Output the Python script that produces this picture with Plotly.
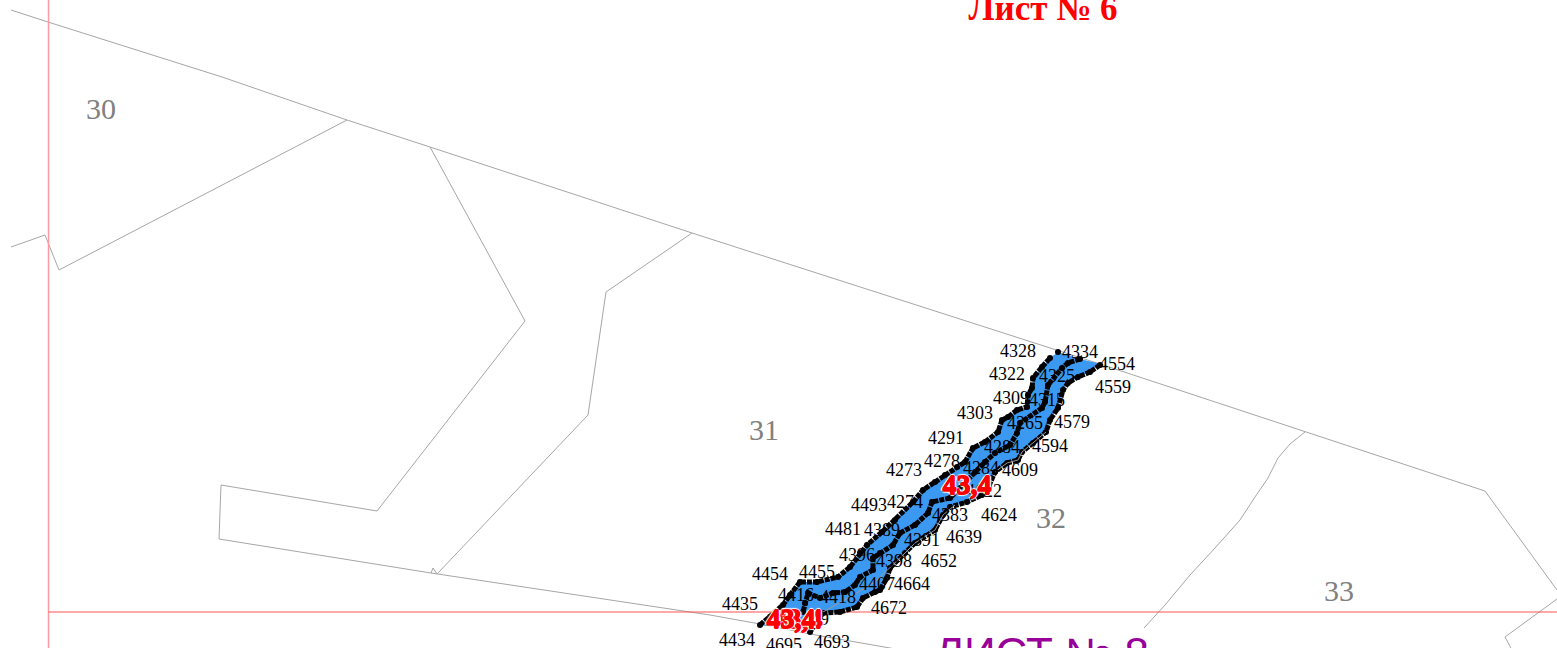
import plotly.graph_objects as go

# picture read in plan coordinates (x to the right, y downwards)
top_x = [11, 48, 222, 347, 430, 692, 1100, 1305, 1485, 1557]
top_y = [10, 22, 77, 120, 147, 233, 364, 432, 491, 590]
left_x = [11, 45, 59, 347]
left_y = [247, 235, 270, 120]
inner_x = [430, 525, 377, 221, 219, 431, 433, 437, 588, 606, 692]
inner_y = [147, 321, 511, 485, 539, 573, 568, 574, 415, 292, 233]
bottom_x = [431, 710, 760, 810, 930]
bottom_y = [573, 615, 624, 634, 655]
east_x = [1305, 1290, 1278, 1268, 1255, 1240, 1215, 1190, 1165, 1144]
east_y = [432, 444, 458, 478, 497, 520, 548, 575, 605, 628]
corner_x = [1557, 1505, 1512]
corner_y = [599, 637, 650]

redv_x = [48.5, 48.5]
redv_y = [0, 648]
redh_x = [48.5, 1557]
redh_y = [612, 612]

# strip edges
edge_l_x = [760, 770, 783, 790, 800, 817, 838, 850, 860, 867, 882, 895, 913, 923, 935, 945, 957, 965, 973, 985, 998,
            1002, 1008, 1017, 1027, 1028, 1032, 1033, 1042, 1050, 1058]
edge_l_y = [625, 617, 605, 595, 582, 582, 577, 567, 553, 545, 532, 520, 502, 490, 482, 475, 467, 462, 448, 442, 432,
            420, 417, 410, 407, 395, 388, 378, 367, 358, 352]
edge_t_x = [1058, 1080, 1097, 1100]
edge_t_y = [352, 359, 363, 365]
edge_r_x = [1100, 1090, 1078, 1068, 1063, 1058, 1050, 1046, 1033, 1022, 1018, 1007, 995, 988, 982, 967, 950, 943, 935,
            915, 905, 890, 887, 880, 875, 863, 857, 840, 823, 810]
edge_r_y = [365, 372, 377, 383, 390, 408, 420, 432, 443, 452, 460, 463, 472, 488, 495, 502, 507, 515, 530,
            543, 553, 568, 578, 590, 592, 598, 607, 612, 613, 632]
edge_b_x = [810, 797, 760]
edge_b_y = [632, 630, 625]
mid_x = [1080, 1068, 1062, 1048, 1045, 1042, 1020, 1017, 1010, 995, 985, 975, 950, 932, 928, 915, 900, 893, 880, 873,
         873, 860, 855, 845, 833, 820, 808, 805, 803]
mid_y = [359, 363, 368, 385, 402, 408, 423, 433, 445, 453, 462, 472, 498, 502, 513, 525, 533, 545, 553, 558,
         570, 577, 585, 592, 593, 598, 593, 603, 612]
river_a_x = [1046, 1033, 1022, 1018, 1007, 995]
river_a_y = [432, 443, 452, 460, 463, 472]
river_b_x = [955, 943, 935, 915, 905, 888, 875, 850, 823]
river_b_y = [505, 515, 530, 543, 553, 570, 582, 597, 612]

# labels
point_labels = ["4328", "4334", "4554", "4559", "4322", "4325", "4309", "4315", "4303", "4265", "4579",
                "4291", "4284", "4594", "4278", "4284", "4609", "4273", "4622", "4274", "4493", "4383",
                "4624", "4481", "4389", "4391", "4639", "4396", "4398", "4652", "4407", "4664", "4454",
                "4455", "4416", "4418", "4672", "4435", "4429", "4434", "4695", "4693"]
point_x = [1018, 1080, 1117, 1113, 1007, 1057, 1011, 1047, 975, 1025, 1072,
           946, 1002, 1050, 942, 981, 1020, 904, 984, 905, 869, 950,
           999, 843, 882, 922, 964, 857, 894, 939, 877, 912, 770,
           817, 796, 838, 889, 740, 811, 737, 784, 832]
point_y = [352, 353, 365, 388, 375, 377, 399, 401, 414, 424, 423,
           439, 448, 447, 462, 469, 471, 471, 492, 503, 506, 516,
           516, 530, 531, 541, 538, 556, 562, 562, 585, 585, 575,
           573, 596, 598, 609, 605, 620, 641, 646, 643]
zone_labels = ["30", "31", "32", "33"]
zone_x = [101, 764, 1051, 1339]
zone_y = [111, 432, 520, 593]
area_labels = ["43,4", "43,4", "43,4"]
area_x = [967, 798, 791]
area_y = [487, 621, 621]

fig = go.Figure()

for xs, ys in [(top_x, top_y), (left_x, left_y), (inner_x, inner_y), (bottom_x, bottom_y),
               (east_x, east_y), (corner_x, corner_y)]:
    fig.add_scatter(x=xs, y=ys, mode="lines", line=dict(color="#a6a6a6", width=1),
                    showlegend=False, hoverinfo="skip")

fig.add_scatter(x=redv_x, y=redv_y, mode="lines", line=dict(color="#ff9a9f", width=1.5),
                showlegend=False, hoverinfo="skip")
fig.add_scatter(x=redh_x, y=redh_y, mode="lines", line=dict(color="#ff5055", width=1),
                showlegend=False, hoverinfo="skip")

fig.add_scatter(x=edge_l_x + edge_t_x + edge_r_x + edge_b_x, y=edge_l_y + edge_t_y + edge_r_y + edge_b_y,
                mode="lines", fill="toself", fillcolor="#3b99f2", line=dict(width=0),
                showlegend=False, hoverinfo="skip")

for xs, ys in [(edge_l_x[:-1], edge_l_y[:-1]), (mid_x, mid_y), (edge_r_x, edge_r_y)]:
    fig.add_scatter(x=xs, y=ys, mode="lines+markers", line=dict(color="black", width=5, dash="5px,1px"),
                    marker=dict(color="black", size=6), showlegend=False, hoverinfo="skip")
fig.add_scatter(x=edge_t_x[:1], y=edge_t_y[:1], mode="markers", marker=dict(color="black", size=6),
                showlegend=False, hoverinfo="skip")
for xs, ys in [(river_a_x, river_a_y), (river_b_x, river_b_y)]:
    fig.add_scatter(x=xs, y=ys, mode="lines", line=dict(color="#999999", width=1),
                    showlegend=False, hoverinfo="skip")

fig.add_scatter(x=point_x, y=point_y, text=point_labels, mode="text",
                textfont=dict(family="Liberation Serif", size=18, color="black"),
                showlegend=False, hoverinfo="skip")
fig.add_scatter(x=zone_x, y=zone_y, text=zone_labels, mode="text",
                textfont=dict(family="Liberation Serif", size=30, color="#808080"),
                showlegend=False, hoverinfo="skip")
fig.add_scatter(x=area_x, y=area_y, text=area_labels, mode="text",
                textfont=dict(family="Liberation Serif", size=28, color="#ff0000", weight="bold",
                              shadow="0.5px 0 0 #f00, -0.5px 0 0 #f00, 0 1px 0 #f00, 0 -1px 0 #f00, "
                                     "2px 0 1px #fff, -2px 0 1px #fff, 0 2px 1px #fff, 0 -2px 1px #fff"),
                showlegend=False, hoverinfo="skip")
fig.add_scatter(x=[1043], y=[11], text=["Лист № 6"], mode="text",
                textfont=dict(family="Liberation Serif", size=35, color="#ff0000", weight="bold"),
                showlegend=False, hoverinfo="skip")
fig.add_scatter(x=[1042], y=[658], text=["ЛИСТ № 8"], mode="text",
                textfont=dict(family="Liberation Sans", size=44, color="#990099"),
                showlegend=False, hoverinfo="skip")

fig.update_xaxes(range=[0, 1557], visible=False, fixedrange=True)
fig.update_yaxes(range=[648, 0], visible=False, fixedrange=True)
fig.update_layout(width=1557, height=648, margin=dict(l=0, r=0, t=0, b=0),
                  paper_bgcolor="white", plot_bgcolor="white")

# the page body has a default margin that shifts the figure
fig.write_html("out.html", config=dict(displayModeBar=False),
               post_script="document.body.style.margin='0';document.body.style.overflow='hidden';")
